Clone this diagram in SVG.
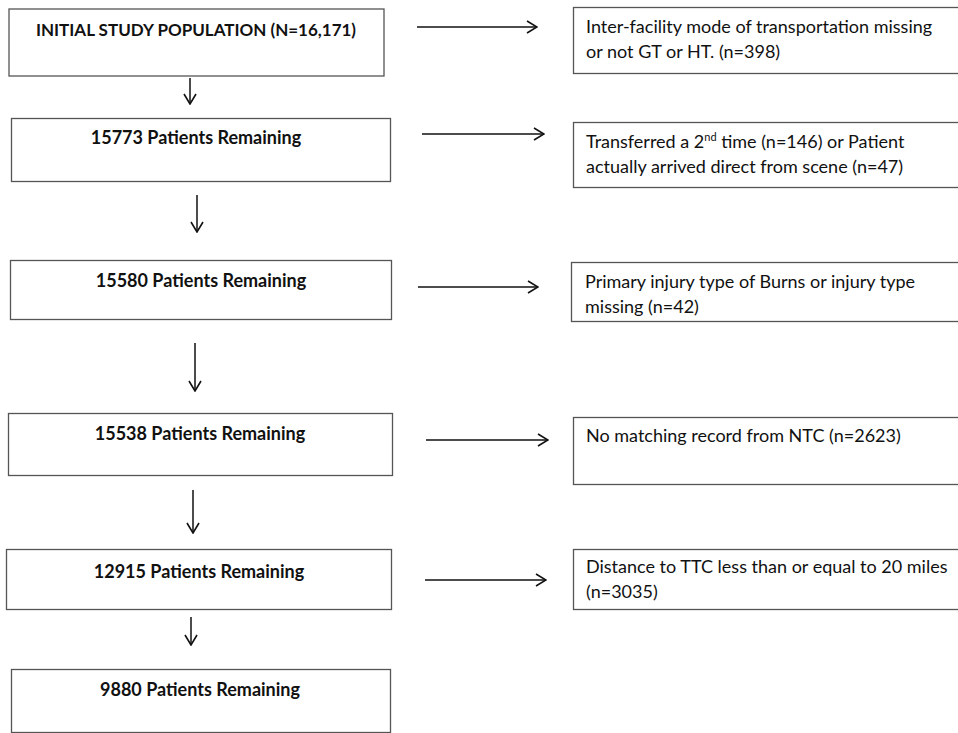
<svg xmlns="http://www.w3.org/2000/svg" width="958" height="733" viewBox="0 0 958 733">
<style>
.box{fill:#fff;stroke:#555;stroke-width:1.3}
.t{font-family:Lato,"Liberation Sans",sans-serif;font-size:18px;fill:#111}
.b{font-weight:bold;text-anchor:middle}
.title{font-size:17px}
.sup{font-size:11px}
.c{fill:none;stroke:#111;stroke-width:1.5}
</style>
<defs>
<marker id="ah" viewBox="0 0 12 14" refX="11" refY="7" markerWidth="12" markerHeight="14" markerUnits="userSpaceOnUse" orient="auto">
<path d="M1,1 L11,7 L1,13" fill="none" stroke="#111" stroke-width="1.6"/>
</marker>
</defs>
<rect width="958" height="733" fill="#fff"/>
<g id="n1"><rect class="box" x="9" y="9" width="375" height="67"/><text class="t b title" x="196" y="36">INITIAL STUDY POPULATION (N=16,171)</text></g>
<g id="n2"><rect class="box" x="11.5" y="118.5" width="379" height="63"/><text class="t b" x="196" y="144">15773 Patients Remaining</text></g>
<g id="n3"><rect class="box" x="10.5" y="260.5" width="381" height="59"/><text class="t b" x="201" y="287">15580 Patients Remaining</text></g>
<g id="n4"><rect class="box" x="8.5" y="413.5" width="384" height="62"/><text class="t b" x="200" y="440">15538 Patients Remaining</text></g>
<g id="n5"><rect class="box" x="6.5" y="549.5" width="385" height="60"/><text class="t b" x="199" y="578">12915 Patients Remaining</text></g>
<g id="n6"><rect class="box" x="11.5" y="669.5" width="379" height="63"/><text class="t b" x="200" y="696">9880 Patients Remaining</text></g>
<g id="r1"><rect class="box" x="573.5" y="7.5" width="390" height="66"/><text class="t" x="586" y="33">Inter-facility mode of transportation missing</text><text class="t" x="586" y="58">or not GT or HT. (n=398)</text></g>
<g id="r2"><rect class="box" x="573.5" y="122.5" width="390" height="65"/><text class="t" x="586" y="148">Transferred a 2<tspan class="sup" dy="-7">nd</tspan><tspan dy="7"> time (n=146) or Patient</tspan></text><text class="t" x="586" y="173">actually arrived direct from scene (n=47)</text></g>
<g id="r3"><rect class="box" x="571.5" y="262.5" width="392" height="59"/><text class="t" x="585" y="288">Primary injury type of Burns or injury type</text><text class="t" x="585" y="313">missing (n=42)</text></g>
<g id="r4"><rect class="box" x="573.5" y="417.5" width="390" height="67"/><text class="t" x="586" y="442">No matching record from NTC (n=2623)</text></g>
<g id="r5"><rect class="box" x="573.5" y="549.5" width="390" height="60"/><text class="t" x="586" y="573">Distance to TTC less than or equal to 20 miles</text><text class="t" x="586" y="598">(n=3035)</text></g>
<g id="connectors">
<line class="c" x1="190" y1="78" x2="190" y2="104" marker-end="url(#ah)"/>
<line class="c" x1="197" y1="195" x2="197" y2="232" marker-end="url(#ah)"/>
<line class="c" x1="195" y1="343" x2="195" y2="391" marker-end="url(#ah)"/>
<line class="c" x1="193" y1="490" x2="193" y2="533" marker-end="url(#ah)"/>
<line class="c" x1="191" y1="617" x2="191" y2="645" marker-end="url(#ah)"/>
<line class="c" x1="417" y1="27" x2="537" y2="27" marker-end="url(#ah)"/>
<line class="c" x1="422" y1="134" x2="544" y2="134" marker-end="url(#ah)"/>
<line class="c" x1="418" y1="287" x2="538" y2="287" marker-end="url(#ah)"/>
<line class="c" x1="426" y1="440" x2="548" y2="440" marker-end="url(#ah)"/>
<line class="c" x1="425" y1="580" x2="546" y2="580" marker-end="url(#ah)"/>
</g>
</svg>
